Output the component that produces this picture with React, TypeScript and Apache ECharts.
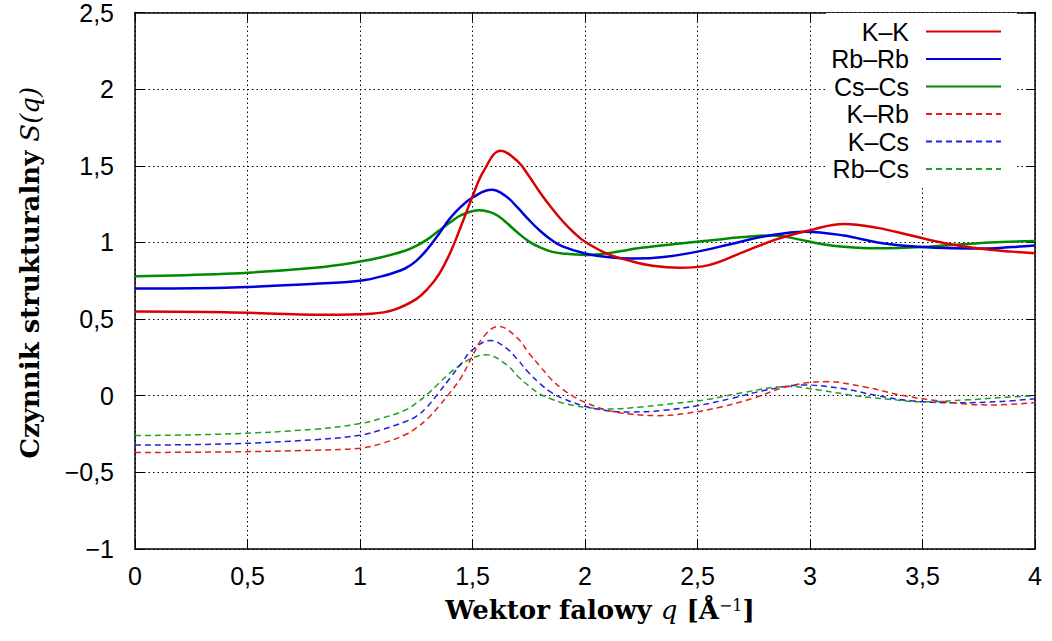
import React, { useEffect, useRef } from "react";
import * as echarts from "echarts";

// Each curve: wave-vector samples q and values S(q)
const KK_Q = [0, 0.4, 0.85, 1.05, 1.15, 1.25, 1.3, 1.35, 1.4, 1.45, 1.5, 1.55, 1.625, 1.7, 1.75, 1.8, 1.85, 1.9, 1.95, 2.0,
  2.1, 2.2, 2.3, 2.42, 2.55, 2.7, 2.85, 3.0, 3.15, 3.3, 3.45, 3.6, 3.75, 3.9, 4.0];
const KK = [0.55, 0.545, 0.528, 0.535, 0.56, 0.63, 0.696, 0.79, 0.93, 1.11, 1.3, 1.467, 1.598, 1.53, 1.435, 1.326, 1.228, 1.14, 1.065, 1.004,
  0.925, 0.88, 0.848, 0.835, 0.852, 0.935, 1.02, 1.08, 1.12, 1.095, 1.045, 0.995, 0.96, 0.94, 0.93];

const RbRb_Q = [0, 0.4, 0.8, 1.0, 1.1, 1.2, 1.25, 1.3, 1.35, 1.4, 1.45, 1.5, 1.585, 1.65, 1.7, 1.75, 1.8, 1.85, 1.9, 2.0,
  2.1, 2.22, 2.35, 2.5, 2.65, 2.8, 2.98, 3.15, 3.3, 3.45, 3.6, 3.75, 3.9, 4.0];
const RbRb = [0.7, 0.705, 0.73, 0.75, 0.78, 0.83, 0.88, 0.957, 1.054, 1.157, 1.235, 1.293, 1.343, 1.3, 1.228, 1.148, 1.076, 1.017, 0.974, 0.928,
  0.905, 0.895, 0.905, 0.94, 0.99, 1.04, 1.07, 1.045, 1.0, 0.975, 0.963, 0.96, 0.97, 0.98];

const CsCs_Q = [0, 0.4, 0.8, 1.0, 1.1, 1.2, 1.25, 1.3, 1.35, 1.4, 1.45, 1.53, 1.6, 1.65, 1.7, 1.75, 1.8, 1.85, 1.9, 2.0,
  2.1, 2.25, 2.4, 2.55, 2.7, 2.84, 2.95, 3.05, 3.15, 3.3, 3.5, 3.7, 3.85, 4.0];
const CsCs = [0.78, 0.795, 0.835, 0.875, 0.905, 0.946, 0.978, 1.02, 1.076, 1.13, 1.178, 1.21, 1.185, 1.13, 1.065, 1.007, 0.967, 0.94, 0.928, 0.918,
  0.93, 0.965, 0.99, 1.012, 1.035, 1.046, 1.02, 0.99, 0.972, 0.962, 0.97, 0.99, 1.002, 1.01];

const KRb_Q = [0, 0.4, 0.8, 1.0, 1.1, 1.2, 1.25, 1.3, 1.35, 1.4, 1.45, 1.5, 1.55, 1.615, 1.7, 1.75, 1.8, 1.85, 1.9, 1.95, 2.0,
  2.1, 2.2, 2.32, 2.45, 2.6, 2.75, 2.9, 3.07, 3.25, 3.4, 3.55, 3.7, 3.82, 4.0];
const KRb = [-0.37, -0.367, -0.355, -0.342, -0.31, -0.255, -0.21, -0.15, -0.07, 0.02, 0.12, 0.26, 0.386, 0.452, 0.376, 0.279, 0.193, 0.107, 0.043, -0.006, -0.043,
  -0.095, -0.12, -0.13, -0.115, -0.075, -0.015, 0.06, 0.092, 0.055, 0.005, -0.03, -0.055, -0.06, -0.045];

const KCs_Q = [0, 0.4, 0.8, 1.0, 1.1, 1.2, 1.25, 1.3, 1.35, 1.4, 1.45, 1.5, 1.58, 1.65, 1.7, 1.75, 1.8, 1.85, 1.9, 2.0,
  2.1, 2.2, 2.35, 2.5, 2.65, 2.8, 2.97, 3.15, 3.3, 3.45, 3.65, 3.85, 4.0];
const KCs = [-0.322, -0.315, -0.287, -0.258, -0.22, -0.17, -0.135, -0.07, 0.02, 0.115, 0.21, 0.3, 0.36, 0.311, 0.236, 0.15, 0.079, 0.021, -0.017, -0.069,
  -0.098, -0.106, -0.095, -0.065, -0.018, 0.035, 0.07, 0.045, 0.0, -0.033, -0.046, -0.037, -0.02];

const RbCs_Q = [0, 0.4, 0.8, 1.0, 1.1, 1.2, 1.25, 1.3, 1.35, 1.4, 1.45, 1.5, 1.56, 1.65, 1.7, 1.75, 1.8, 1.85, 1.9, 1.95, 2.0,
  2.1, 2.25, 2.4, 2.55, 2.7, 2.9, 3.05, 3.2, 3.35, 3.5, 3.7, 3.85, 4.0];
const RbCs = [-0.26, -0.25, -0.218, -0.182, -0.145, -0.095, -0.049, 0.011, 0.08, 0.15, 0.204, 0.247, 0.267, 0.204, 0.129, 0.064, 0.011, -0.021, -0.047, -0.064, -0.075,
  -0.087, -0.073, -0.05, -0.023, 0.02, 0.06, 0.035, 0.0, -0.023, -0.04, -0.027, -0.012, 0.0];

const SERIES_NAMES = ["K–K", "Rb–Rb", "Cs–Cs", "K–Rb", "K–Cs", "Rb–Cs"];
const SERIES_Q = [KK_Q, RbRb_Q, CsCs_Q, KRb_Q, KCs_Q, RbCs_Q];
const SERIES_VALUES = [KK, RbRb, CsCs, KRb, KCs, RbCs];
const COLORS = ["#dd0000", "#0000dd", "#008a00", "#e02020", "#2020dd", "#22a022"];
const DASHED = [false, false, false, true, true, true];

const fmt = (v: number) => String(v).replace(".", ",").replace("-", "−");

export default function App() {
  const ref = useRef<HTMLDivElement>(null);
  useEffect(() => {
    if (!ref.current) return;
    const chart = echarts.init(ref.current, undefined, { renderer: "svg" });
    const labelFont = { fontFamily: "Liberation Sans", fontSize: 25, color: "#000" };
    const frameLine = { show: true, onZero: false, lineStyle: { color: "#000", width: 1.5 } };
    const tick = { show: true, inside: true, length: 9, lineStyle: { color: "#000", width: 1 } };
    const split = { show: true, lineStyle: { color: "#000", width: 1, type: [1.5, 3] as any } };
    const titleFont = "DejaVu Serif";
    const series = SERIES_NAMES.map((name, i) => ({
      name,
      type: "line",
      symbol: "none",
      smooth: 0.4,
      xAxisIndex: 0,
      yAxisIndex: 0,
      data: SERIES_Q[i].map((q, j) => [q, SERIES_VALUES[i][j]]),
      lineStyle: DASHED[i]
        ? { color: COLORS[i], width: 1.5, type: [6, 4] }
        : { color: COLORS[i], width: 2.5 },
      itemStyle: { color: COLORS[i] },
      z: 10 - i,
    }));
    chart.setOption({
      animation: false,
      backgroundColor: "#fff",
      grid: { left: 135, right: 17, top: 8, bottom: 92, containLabel: false },
      legend: {
        orient: "vertical",
        align: "right",
        right: 35,
        top: 13,
        padding: [6, 15, 6, 5],
        backgroundColor: "#fff",
        itemWidth: 75,
        itemHeight: 14,
        itemGap: 2.5,
        itemStyle: { opacity: 0, borderWidth: 0 },
        data: SERIES_NAMES,
        textStyle: { fontFamily: "Liberation Sans", fontSize: 25, color: "#000", lineHeight: 22, padding: [0, 12, 0, 0] },
      },
      xAxis: [
        {
          type: "value",
          min: 0,
          max: 4,
          interval: 0.5,
          position: "bottom",
          axisLine: frameLine,
          axisTick: tick,
          splitLine: split,
          axisLabel: { ...labelFont, margin: 14, formatter: fmt },
          name: "{b|Wektor falowy }{i|q}{b| [Å}{s|−1}{b|]}",
          nameLocation: "middle",
          nameGap: 48,
          nameTextStyle: {
            padding: [0, 0, 0, 30],
            rich: {
              b: { fontFamily: titleFont, fontWeight: "bold", fontSize: 26, color: "#000" },
              i: { fontFamily: titleFont, fontStyle: "italic", fontSize: 26, color: "#000" },
              s: { fontFamily: titleFont, fontSize: 16, color: "#000", verticalAlign: "top", padding: [0, 0, 10, 0] },
            },
          },
        },
        {
          type: "value",
          min: 0,
          max: 4,
          interval: 0.5,
          position: "top",
          axisLine: frameLine,
          axisTick: tick,
          splitLine: { show: false },
          axisLabel: { show: false },
        },
      ],
      yAxis: [
        {
          type: "value",
          min: -1,
          max: 2.5,
          interval: 0.5,
          position: "left",
          axisLine: frameLine,
          axisTick: tick,
          splitLine: split,
          axisLabel: { ...labelFont, margin: 21, formatter: fmt },
          name: "{b|Czynnik strukturalny }{i|S(q)}",
          nameLocation: "middle",
          nameGap: 92,
          nameTextStyle: {
            padding: [0, 0, 0, 16],
            rich: {
              b: { fontFamily: titleFont, fontWeight: "bold", fontSize: 26, color: "#000" },
              i: { fontFamily: titleFont, fontStyle: "italic", fontSize: 26, color: "#000" },
            },
          },
        },
        {
          type: "value",
          min: -1,
          max: 2.5,
          interval: 0.5,
          position: "right",
          axisLine: frameLine,
          axisTick: tick,
          splitLine: { show: false },
          axisLabel: { show: false },
        },
      ],
      series,
    });
    return () => chart.dispose();
  }, []);
  return <div ref={ref} style={{ width: 1052, height: 641, position: "absolute", left: 0, top: 0 }} />;
}
